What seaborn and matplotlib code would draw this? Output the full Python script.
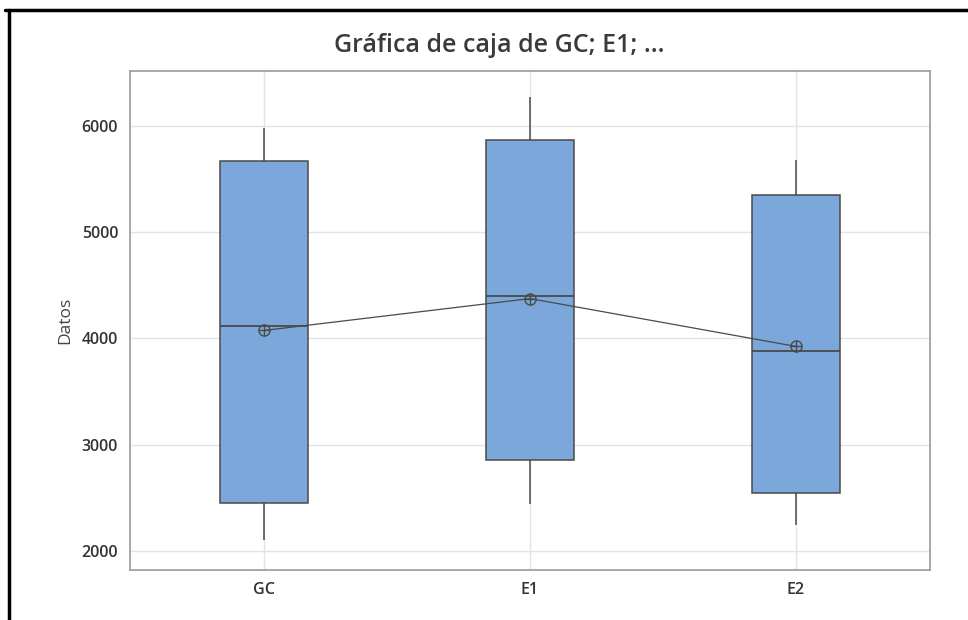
import pandas as pd
import seaborn as sns
import matplotlib.pyplot as plt
from matplotlib.lines import Line2D

# values
groups = ["GC", "E1", "E2"]
mins = [2100, 2440, 2245]
q1s = [2450, 2855, 2545]
medians = [4120, 4395, 3880]
q3s = [5670, 5870, 5345]
maxs = [5980, 6270, 5680]
means = [4075, 4375, 3925]

BOX_COLOR = "#7BA7DA"
LINE_COLOR = "#4a4a4a"
TEXT_COLOR = "#333333"

sns.set_theme(style="white")
plt.rcParams["font.family"] = ["Open Sans", "DejaVu Sans"]

# five points per group reproduce min, quartiles, median and max exactly
rows = []
for g, a, b, c, d, e in zip(groups, mins, q1s, medians, q3s, maxs):
    for v in (a, b, c, d, e):
        rows.append({"grupo": g, "Datos": v})
data = pd.DataFrame(rows)

fig = plt.figure(figsize=(9.68, 6.2), dpi=100)
ax = fig.add_axes([0.1343, 0.0806, 0.8264, 0.805])

sns.boxplot(data=data, x="grupo", y="Datos", order=groups, ax=ax,
            color=BOX_COLOR, saturation=1, width=0.33, whis=(0, 100),
            linecolor=LINE_COLOR, linewidth=1.1,
            capprops={"visible": False},
            medianprops={"color": LINE_COLOR, "linewidth": 1.3},
            zorder=2)

sns.pointplot(x=groups, y=means, ax=ax, color=LINE_COLOR, errorbar=None,
              marker="o", markersize=8, markerfacecolor="none",
              markeredgewidth=1, linewidth=0.9, zorder=5)
sns.pointplot(x=groups, y=means, ax=ax, color=LINE_COLOR, errorbar=None,
              marker="+", markersize=8, markeredgewidth=1, linestyle="none",
              zorder=6)

ax.set_xlim(-0.504, 2.504)
ax.set_ylim(1822, 6516)
ax.set_yticks([2000, 3000, 4000, 5000, 6000])
ax.set_axisbelow(True)
ax.grid(True, color="#e3e3e3", linewidth=1)
for s in ax.spines.values():
    s.set_color("#9a9a9a")
    s.set_linewidth(1.2)
ax.tick_params(axis="both", length=5, color="#9a9a9a", width=1,
               labelsize=11.5, labelcolor=TEXT_COLOR)
for lab in ax.get_xticklabels() + ax.get_yticklabels():
    lab.set_fontweight("semibold")
ax.set_xlabel("")
ax.set_ylabel("Datos", fontsize=12.5, color="#444444", labelpad=6)

fig.text(0.516, 0.927, "Gráfica de caja de GC; E1; ...", ha="center",
         va="center", fontsize=18, color="#3a3a3a", fontweight="semibold")

# black frame from the screenshot
fig.add_artist(Line2D([0.005, 1.0], [0.984, 0.984], color="black",
                      linewidth=2.5, transform=fig.transFigure))
fig.add_artist(Line2D([0.0093, 0.0093], [0.0, 0.984], color="black",
                      linewidth=2.5, transform=fig.transFigure))

fig.savefig("out.png", dpi=100)
